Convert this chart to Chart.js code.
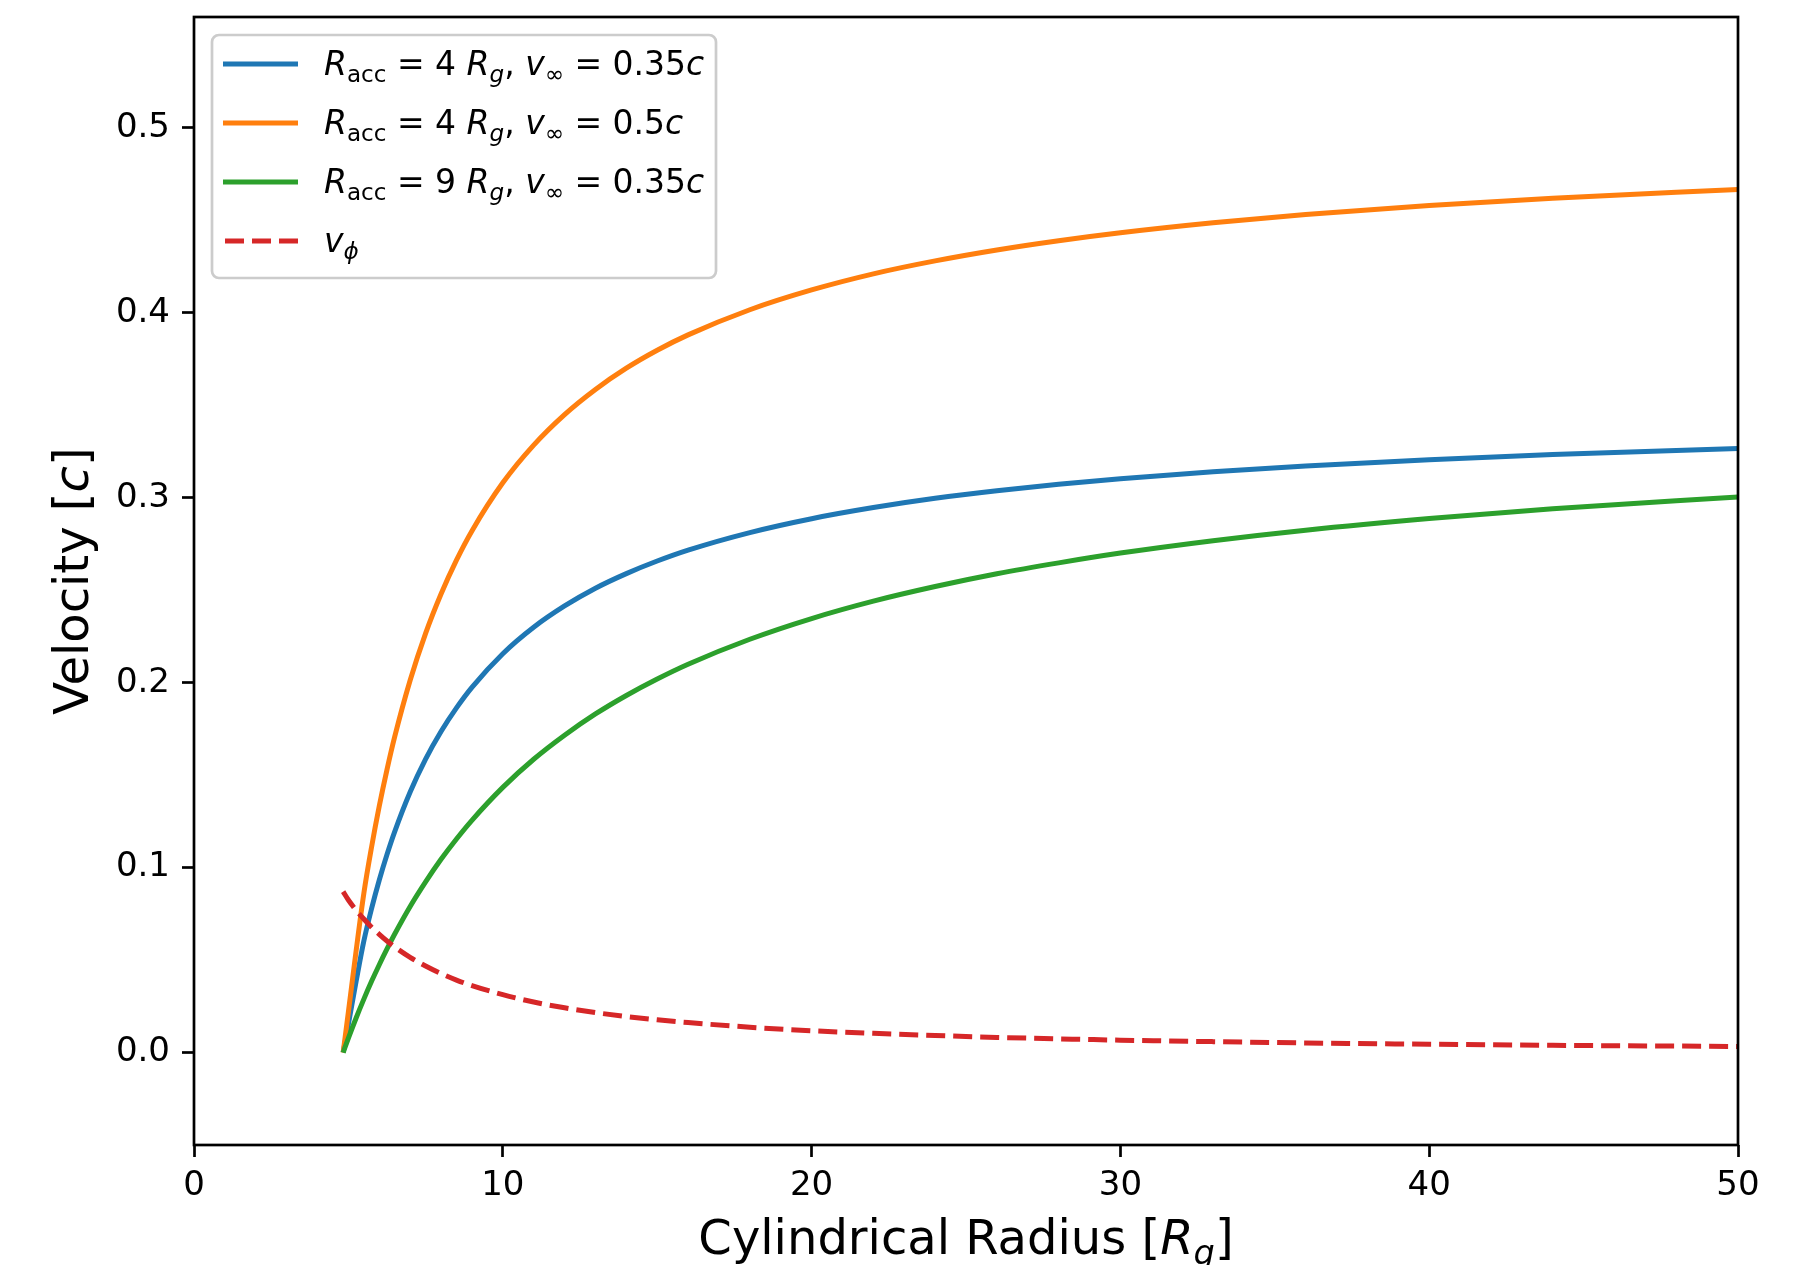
<!DOCTYPE html>
<html>
<head>
<meta charset="utf-8">
<script src="https://cdn.jsdelivr.net/npm/chart.js@4.4.1/dist/chart.umd.min.js"></script>
<style>
  html, body { margin: 0; padding: 0; background: #fff; }
  canvas { display: block; }
</style>
</head>
<body>
<canvas id="velChart" width="1804" height="1265"></canvas>
<script>
// cylindrical radius in R_g
var radius = [4.83, 5, 5.25, 5.5, 5.75, 6, 6.25, 6.5, 7, 7.5, 8, 8.5, 9, 10, 11, 12, 13, 14, 15, 16, 18, 20, 22, 24, 26, 28, 30, 33, 36, 40, 44, 50];

// R_acc = 4 Rg, v_inf = 0.35c
var vBlue = [0, 0.0154, 0.0385, 0.0603, 0.0778, 0.0933, 0.1071, 0.1195, 0.1409, 0.1587, 0.1736, 0.1864, 0.1975, 0.2157, 0.2300, 0.2415, 0.2511, 0.2590, 0.2658, 0.2717, 0.2812, 0.2887, 0.2947, 0.2997, 0.3038, 0.3073, 0.3103, 0.3141, 0.3172, 0.3206, 0.3234, 0.3267];
// R_acc = 4 Rg, v_inf = 0.5c
var vOrange = [0, 0.0220, 0.0550, 0.0861, 0.1111, 0.1333, 0.1530, 0.1708, 0.2013, 0.2267, 0.2480, 0.2663, 0.2821, 0.3081, 0.3285, 0.3450, 0.3586, 0.3701, 0.3798, 0.3881, 0.4017, 0.4124, 0.4211, 0.4281, 0.4340, 0.4390, 0.4433, 0.4487, 0.4532, 0.4581, 0.4620, 0.4667];
// R_acc = 9 Rg, v_inf = 0.35c
var vGreen = [0, 0.0078, 0.0187, 0.0289, 0.0385, 0.0475, 0.0560, 0.0641, 0.0790, 0.0923, 0.1045, 0.1155, 0.1256, 0.1434, 0.1586, 0.1716, 0.1831, 0.1931, 0.2020, 0.2100, 0.2235, 0.2347, 0.2441, 0.2520, 0.2589, 0.2648, 0.2701, 0.2768, 0.2825, 0.2888, 0.2941, 0.3004];
// azimuthal velocity
var vPhi = [0.087, 0.0825, 0.0770, 0.0722, 0.0678, 0.0639, 0.0603, 0.0571, 0.0515, 0.0468, 0.0427, 0.0392, 0.0362, 0.0313, 0.0273, 0.0242, 0.0216, 0.0195, 0.0177, 0.0162, 0.0137, 0.0118, 0.0104, 0.0092, 0.0082, 0.0074, 0.0067, 0.0059, 0.0052, 0.0045, 0.0039, 0.0033];

var xTicks = [0, 10, 20, 30, 40, 50];
var yTicks = [0.0, 0.1, 0.2, 0.3, 0.4, 0.5];

var FONT = '"DejaVu Sans", "Liberation Sans", sans-serif';

function pts(ys) {
  return radius.map(function(r, i) { return {x: r, y: ys[i]}; });
}

// draws text pieces: normal, italic, subscript
function drawRich(ctx, segs, x, y, size, measureOnly) {
  var cx = x;
  segs.forEach(function(s) {
    var sz = s.sub ? size * 0.7 : size;
    ctx.font = (s.it ? 'italic ' : '') + sz + 'px ' + FONT;
    if (!measureOnly) ctx.fillText(s.t, cx, y + (s.sub ? size * 0.2 : 0));
    cx += ctx.measureText(s.t).width;
  });
  return cx - x;
}

var legendRows = [
  {color: '#1f77b4', dash: [], segs: [{t:'R',it:1},{t:'acc',sub:1},{t:' = 4 '},{t:'R',it:1},{t:'g',it:1,sub:1},{t:', '},{t:'v',it:1},{t:'∞',sub:1},{t:' = 0.35'},{t:'c',it:1}]},
  {color: '#ff7f0e', dash: [], segs: [{t:'R',it:1},{t:'acc',sub:1},{t:' = 4 '},{t:'R',it:1},{t:'g',it:1,sub:1},{t:', '},{t:'v',it:1},{t:'∞',sub:1},{t:' = 0.5'},{t:'c',it:1}]},
  {color: '#2ca02c', dash: [], segs: [{t:'R',it:1},{t:'acc',sub:1},{t:' = 9 '},{t:'R',it:1},{t:'g',it:1,sub:1},{t:', '},{t:'v',it:1},{t:'∞',sub:1},{t:' = 0.35'},{t:'c',it:1}]},
  {color: '#d62728', dash: [19, 8], segs: [{t:'v',it:1},{t:'ϕ',it:1,sub:1}]}
];

var framePlugin = {
  id: 'frame',
  afterDraw: function(chart) {
    var ctx = chart.ctx, a = chart.chartArea;
    ctx.save();
    // axes box
    ctx.strokeStyle = '#000';
    ctx.lineWidth = 2.7;
    ctx.strokeRect(a.left, a.top, a.right - a.left, a.bottom - a.top);

    // axis titles
    ctx.fillStyle = '#000';
    ctx.textBaseline = 'alphabetic';
    var xl = [{t:'Cylindrical Radius ['},{t:'R',it:1},{t:'g',it:1,sub:1},{t:']'}];
    var w = drawRich(ctx, xl, 0, 0, 48, true);
    drawRich(ctx, xl, (a.left + a.right) / 2 - w / 2, 1254, 48);

    var yl = [{t:'Velocity ['},{t:'c',it:1},{t:']'}];
    w = drawRich(ctx, yl, 0, 0, 48, true);
    ctx.save();
    ctx.translate(88, (a.top + a.bottom) / 2);
    ctx.rotate(-Math.PI / 2);
    drawRich(ctx, yl, -w / 2, 0, 48);
    ctx.restore();

    // legend
    var bx = 212, by = 35, bw = 504, bh = 243, rad = 7;
    ctx.beginPath();
    ctx.moveTo(bx + rad, by);
    ctx.arcTo(bx + bw, by, bx + bw, by + bh, rad);
    ctx.arcTo(bx + bw, by + bh, bx, by + bh, rad);
    ctx.arcTo(bx, by + bh, bx, by, rad);
    ctx.arcTo(bx, by, bx + bw, by, rad);
    ctx.closePath();
    ctx.fillStyle = 'rgba(255,255,255,0.8)';
    ctx.fill();
    ctx.strokeStyle = '#cccccc';
    ctx.lineWidth = 2.7;
    ctx.stroke();

    legendRows.forEach(function(row, i) {
      var ly = 64 + i * 59;
      ctx.beginPath();
      ctx.setLineDash(row.dash);
      ctx.strokeStyle = row.color;
      ctx.lineWidth = 5;
      ctx.moveTo(row.dash.length ? 225 : 223, ly);
      ctx.lineTo(298, ly);
      ctx.stroke();
      ctx.setLineDash([]);
      ctx.fillStyle = '#000';
      drawRich(ctx, row.segs, 324, ly + 11, 33);
    });
    ctx.restore();
  }
};

function lineSet(label, ys, color, order, dash) {
  return {
    label: label,
    data: pts(ys),
    borderColor: color,
    backgroundColor: color,
    borderWidth: 5,
    borderDash: dash || [],
    pointRadius: 0,
    fill: false,
    cubicInterpolationMode: 'monotone',
    order: order
  };
}

new Chart(document.getElementById('velChart'), {
  type: 'line',
  data: {
    datasets: [
      lineSet('R_acc = 4 R_g, v_inf = 0.35c', vBlue, '#1f77b4', 3),
      lineSet('R_acc = 4 R_g, v_inf = 0.5c', vOrange, '#ff7f0e', 2),
      lineSet('R_acc = 9 R_g, v_inf = 0.35c', vGreen, '#2ca02c', 1),
      lineSet('v_phi', vPhi, '#d62728', 0, [19, 8])
    ]
  },
  options: {
    responsive: false,
    animation: false,
    layout: { padding: { left: 0, top: 17, right: 66, bottom: 0 } },
    plugins: { legend: { display: false }, tooltip: { enabled: false } },
    scales: {
      x: {
        type: 'linear',
        min: 0, max: 50,
        afterBuildTicks: function(s) { s.ticks = xTicks.map(function(v) { return {value: v}; }); },
        afterFit: function(s) { s.height = 120; s.paddingLeft = 0; s.paddingRight = 0; },
        border: { display: false },
        grid: { drawOnChartArea: false, drawTicks: true, tickLength: 12, tickWidth: 2.7, tickColor: '#000' },
        ticks: { color: '#000', padding: 9, maxRotation: 0, font: { family: FONT, size: 34 },
                 callback: function(v) { return String(v); } }
      },
      y: {
        type: 'linear',
        min: -0.05, max: 0.56,
        afterBuildTicks: function(s) { s.ticks = yTicks.map(function(v) { return {value: v}; }); },
        afterFit: function(s) { s.width = 194; s.paddingTop = 0; s.paddingBottom = 0; },
        border: { display: false },
        grid: { drawOnChartArea: false, drawTicks: true, tickLength: 12, tickWidth: 2.7, tickColor: '#000' },
        ticks: { color: '#000', padding: 12, font: { family: FONT, size: 34 },
                 callback: function(v) { return v.toFixed(1); } }
      }
    }
  },
  plugins: [framePlugin]
});
</script>
</body>
</html>
